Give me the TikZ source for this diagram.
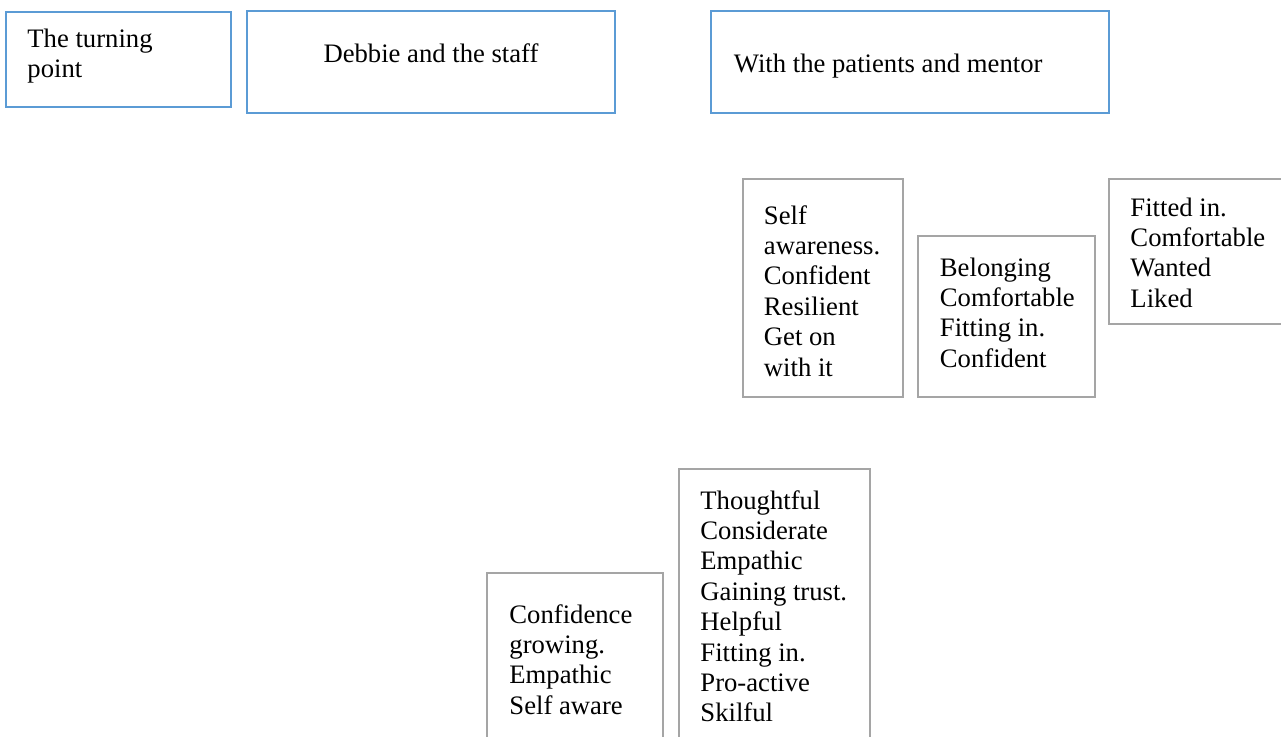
\documentclass[tikz,border=0pt]{standalone}
\usepackage{fontspec}
\setmainfont{Liberation Serif}
\usetikzlibrary{fit}

% stacked lines whose baseline is that of the first line
\newcommand{\stackedlines}[1]{\begin{tabular}[t]{@{}l@{}}#1\end{tabular}}

\definecolor{boxblue}{RGB}{91,155,213}
\definecolor{boxgray}{RGB}{165,165,165}

\tikzset{
  bluebox/.style={draw=boxblue, line width=1.2pt, inner sep=0pt},
  graybox/.style={draw=boxgray, line width=1.05pt, inner sep=0pt},
  label text/.style={inner sep=0pt, font=\fontsize{12}{13.68}\selectfont},
}

\begin{document}
\begin{tikzpicture}[x=0.45pt, y=-0.45pt]
  \useasboundingbox (0,0) rectangle (1281,736);
  \clip (0,0) rectangle (1281,736);

  % heading boxes
  \node[bluebox, fit={(6,12) (231,107)}] (turning) {};
  \node[label text, anchor=base west] (turningtext) at (27,47)
    {\stackedlines{The turning\\point}};

  \node[bluebox, fit={(247,11) (615,113)}] (staff) {};
  \node[label text, anchor=base] (stafftext) at (431,62.6) {Debbie and the staff};

  \node[bluebox, fit={(711,11) (1109,113)}] (patients) {};
  \node[label text, anchor=base west] (patientstext) at (733.5,72.6)
    {With the patients and mentor};

  % upper row of qualities
  \node[graybox, fit={(743,179) (903,397)}] (selfbox) {};
  \node[label text, anchor=base west] (selftext) at (763.5,224)
    {\stackedlines{Self\\awareness.\\Confident\\Resilient\\Get on\\with it}};

  \node[graybox, fit={(918,236) (1095,397)}] (belongbox) {};
  \node[label text, anchor=base west] (belongtext) at (939.5,276)
    {\stackedlines{Belonging\\Comfortable\\Fitting in.\\Confident}};

  \node[graybox, fit={(1109,179) (1300,324)}] (fittedbox) {};
  \node[label text, anchor=base west] (fittedtext) at (1130,216)
    {\stackedlines{Fitted in.\\Comfortable\\Wanted\\Liked}};

  % lower row of qualities
  \node[graybox, fit={(487,573) (663,770)}] (growbox) {};
  \node[label text, anchor=base west] (growtext) at (509,623)
    {\stackedlines{Confidence\\growing.\\Empathic\\Self aware}};

  \node[graybox, fit={(679,469) (870,770)}] (thoughtbox) {};
  \node[label text, anchor=base west] (thoughttext) at (700,509)
    {\stackedlines{Thoughtful\\Considerate\\Empathic\\Gaining trust.\\Helpful\\Fitting in.\\Pro-active\\Skilful}};
\end{tikzpicture}
\end{document}
